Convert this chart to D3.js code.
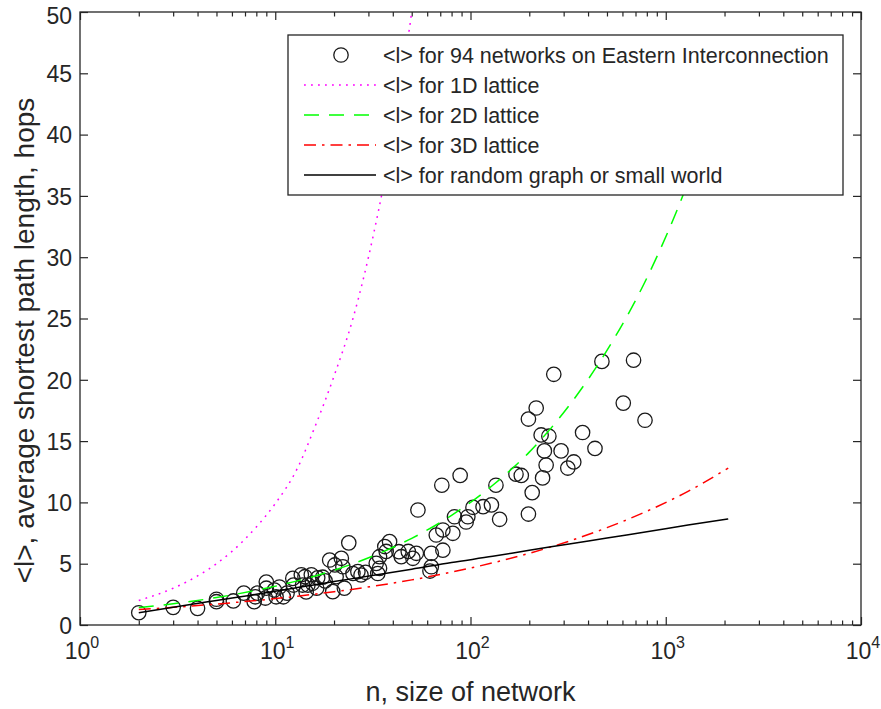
<!DOCTYPE html>
<html>
<head>
<meta charset="utf-8">
<script src="https://cdn.jsdelivr.net/npm/d3@7"></script>
<style>
body { margin: 0; background: #fff; }
text { font-family: "Liberation Sans", Arial, sans-serif; fill: #262626; }
</style>
</head>
<body>
<script>
// measured networks: size n and average shortest path <l>
const netN = [2, 3, 4, 5, 5, 6.1, 6.9, 7.9, 7.8, 8.1, 9.0, 9.0, 8.9, 9.9, 10.1, 11, 12.3, 12.4, 13.6, 13.8, 15.3, 15.5, 14.4, 16.3,
  14.2, 14.7, 19.0, 21.8, 20.2, 22.2, 20.5, 19.7, 23.8, 26.5, 27.5, 22.6, 34.2, 32.9, 34.2, 33.5, 38.5, 36.4, 44.2, 43,
  50.7, 52.8, 48, 53.8, 63, 63, 66.8, 72.2, 81.2, 72.2, 71.3, 88.5, 82.8, 96.9, 95,
  267, 471, 684, 217, 198, 606, 783, 230, 252, 375, 239, 291, 434, 244, 338, 315, 171, 182, 234, 135, 207, 128, 116, 103, 141, 198,
  17.5, 18, 16.5, 11.5, 25, 29, 62, 37, 10.5]
const netL = [1.0, 1.44, 1.36, 1.9, 2.1, 1.96, 2.6, 2.3, 1.9, 2.6, 3.5, 3.0, 2.2, 2.85, 2.3, 2.3, 3.8, 3.26, 4.1, 3.26, 4.1, 3.4, 2.7, 3.0,
  3.94, 3.26, 5.3, 5.44, 4.9, 4.75, 3.94, 2.72, 6.7, 4.35, 4.08, 3.0, 5.57, 5.03, 4.62, 4.2, 6.8, 6.4, 5.57, 5.98,
  5.44, 5.85, 6.0, 9.38, 5.85, 4.75, 7.34, 7.75, 7.48, 6.1, 11.4, 12.2, 8.83, 8.83, 8.4,
  20.45, 21.5, 21.6, 17.7, 16.8, 18.1, 16.7, 15.5, 15.4, 15.7, 14.2, 14.2, 14.4, 13.05, 13.3, 12.8, 12.3, 12.2, 12.0, 11.4, 10.8, 9.8, 9.65, 9.6, 8.62, 9.05,
  3.9, 3.6, 3.85, 2.6, 4.2, 4.3, 4.4, 6.0, 3.1]

// 1D lattice curve
const lat1N = [2, 3, 4, 5, 6, 8, 10, 13, 16, 20, 25, 32, 40, 50, 63]
const lat1L = [2.0, 3.0, 4.0, 5.0, 6.0, 8.0, 9.9, 12.8, 16.2, 20.3, 25, 32, 40, 50, 63]

// 2D, 3D lattice and random graph curves
const curveN = [2, 3, 5, 8, 13, 20, 32, 50, 80, 130, 200, 320, 500, 800, 1300, 2089]
const lat2L = [1.42, 1.73, 2.24, 2.83, 3.6, 4.47, 5.66, 7.07, 8.94, 11.4, 14.1, 17.9, 22.4, 28.3, 36.1, 45.7]
const lat3L = [1.26, 1.44, 1.71, 2.0, 2.35, 2.71, 3.17, 3.68, 4.31, 5.07, 5.85, 6.84, 7.94, 9.28, 10.9, 12.8]
const randL = [1.0, 1.45, 2.0, 2.5, 3.05, 3.55, 4.05, 4.55, 5.1, 5.6, 6.1, 6.6, 7.1, 7.6, 8.15, 8.65]

const yTicks = [0, 5, 10, 15, 20, 25, 30, 35, 40, 45, 50]
const xTicks = [1, 10, 100, 1000, 10000]
const xTickExp = ["0", "1", "2", "3", "4"]
const xMinor = [2, 3, 4, 5, 6, 7, 8, 9, 20, 30, 40, 50, 60, 70, 80, 90, 200, 300, 400, 500, 600, 700, 800, 900,
  2000, 3000, 4000, 5000, 6000, 7000, 8000, 9000]

const legendLabels = [
  "<l> for 94 networks on Eastern Interconnection",
  "<l> for 1D lattice",
  "<l> for 2D lattice",
  "<l> for 3D lattice",
  "<l> for random graph or small world"
]

//Margin Convention
const margin = {top: 12, right: 20, bottom: 84, left: 80}
const width = 881 - margin.left - margin.right
const height = 709 - margin.top - margin.bottom

//Scales
const x = d3.scaleLog().domain([1, 10000]).range([0, width])
const y = d3.scaleLinear().domain([0, 50]).range([height, 0])

const svg = d3.select("body").append("svg")
  .attr("width", 881)
  .attr("height", 709)
  .append("g")
  .attr("transform", "translate(" + margin.left + "," + margin.top + ")")

svg.append("clipPath")
  .attr("id", "plotClip")
  .append("rect")
  .attr("width", width)
  .attr("height", height)

const axisColor = "#262626"

//axes (ticks point inwards like matlab)
function styleAxis(g) {
  g.select(".domain").remove()
  g.selectAll("line").attr("stroke", axisColor).attr("stroke-width", 1.2)
}

svg.append("g")
  .call(d3.axisLeft(y).tickValues(yTicks).tickSizeInner(-8).tickSizeOuter(0).tickPadding(8))
  .call(styleAxis)
  .selectAll("text")
  .attr("font-size", 23)
  .attr("font-family", "Liberation Sans, Arial, sans-serif")
  .attr("fill", axisColor)
  .attr("dy", d => d === 50 ? "0.5em" : "0.36em")

svg.append("g")
  .attr("transform", "translate(" + width + ",0)")
  .call(d3.axisRight(y).tickValues(yTicks).tickSizeInner(-8).tickSizeOuter(0).tickFormat(""))
  .call(styleAxis)

svg.append("g")
  .attr("transform", "translate(0," + height + ")")
  .call(d3.axisBottom(x).tickValues(xTicks).tickSizeInner(-8).tickSizeOuter(0).tickFormat(""))
  .call(styleAxis)

svg.append("g")
  .attr("transform", "translate(0," + height + ")")
  .call(d3.axisBottom(x).tickValues(xMinor).tickSizeInner(-4.5).tickSizeOuter(0).tickFormat(""))
  .call(styleAxis)

svg.append("g")
  .call(d3.axisTop(x).tickValues(xTicks).tickSizeInner(-8).tickSizeOuter(0).tickFormat(""))
  .call(styleAxis)

svg.append("g")
  .call(d3.axisTop(x).tickValues(xMinor).tickSizeInner(-4.5).tickSizeOuter(0).tickFormat(""))
  .call(styleAxis)

// x tick labels 10^k
const xLab = svg.append("g").selectAll("text")
  .data(xTicks)
  .enter()
  .append("text")
  .attr("x", d => x(d) + 2)
  .attr("y", height + 34)
  .attr("text-anchor", "middle")
  .attr("font-size", 23)

xLab.append("tspan").text("10")
xLab.append("tspan")
  .attr("dy", -11)
  .attr("font-size", 16)
  .text((d, i) => xTickExp[i])

svg.append("rect")
  .attr("width", width)
  .attr("height", height)
  .attr("fill", "none")
  .attr("stroke", axisColor)
  .attr("stroke-width", 1.3)

// axis labels
svg.append("text")
  .attr("x", width / 2)
  .attr("y", height + 76)
  .attr("text-anchor", "middle")
  .attr("font-size", 27)
  .text("n, size of network")

svg.append("text")
  .attr("transform", "translate(-46," + (height / 2 + 22) + ") rotate(-90)")
  .attr("text-anchor", "middle")
  .attr("font-size", 28)
  .text("<l>, average shortest path length, hops")

//data points
svg.append("g")
  .selectAll("circle")
  .data(netN)
  .enter()
  .append("circle")
  .attr("cx", d => x(d))
  .attr("cy", (d, i) => y(netL[i]))
  .attr("r", 7.2)
  .attr("fill", "none")
  .attr("stroke", "#1a1a1a")
  .attr("stroke-width", 1.3)

//curves
const line = d3.line()
  .x(d => x(d[0]))
  .y(d => y(d[1]))
  .curve(d3.curveMonotoneX)

const curves = [
  {n: lat1N, l: lat1L, color: "#ff00ff", dash: "1.8,5.2"},
  {n: curveN, l: lat2L, color: "#00ff00", dash: "15,10"},
  {n: curveN, l: lat3L, color: "#ff0000", dash: "12,6,2.5,6"},
  {n: curveN, l: randL, color: "#000000", dash: null}
]

const curveG = svg.append("g").attr("clip-path", "url(#plotClip)")
curves.forEach(function(c) {
  curveG.append("path")
    .datum(c.n.map((d, i) => [d, c.l[i]]))
    .attr("d", line)
    .attr("fill", "none")
    .attr("stroke", c.color)
    .attr("stroke-width", 1.5)
    .attr("stroke-dasharray", c.dash)
})

//legend
const legend = svg.append("g")
  .attr("transform", "translate(" + (288 - margin.left) + "," + (35 - margin.top) + ")")

legend.append("rect")
  .attr("width", 555)
  .attr("height", 160)
  .attr("fill", "#fff")
  .attr("stroke", axisColor)
  .attr("stroke-width", 1.3)

const rows = legend.selectAll(".row")
  .data(legendLabels)
  .enter()
  .append("g")
  .attr("class", "row")
  .attr("transform", (d, i) => "translate(0," + (20 + i * 30) + ")")

rows.append("text")
  .attr("x", 95)
  .attr("dy", "0.35em")
  .attr("font-size", 21.5)
  .text(d => d)

rows.filter((d, i) => i === 0)
  .append("circle")
  .attr("cx", 53)
  .attr("r", 7.2)
  .attr("fill", "none")
  .attr("stroke", "#1a1a1a")
  .attr("stroke-width", 1.3)

rows.filter((d, i) => i > 0)
  .append("line")
  .attr("x1", 16)
  .attr("x2", 88)
  .attr("stroke", (d, i) => curves[i].color)
  .attr("stroke-width", 1.5)
  .attr("stroke-dasharray", (d, i) => curves[i].dash)
</script>
</body>
</html>
